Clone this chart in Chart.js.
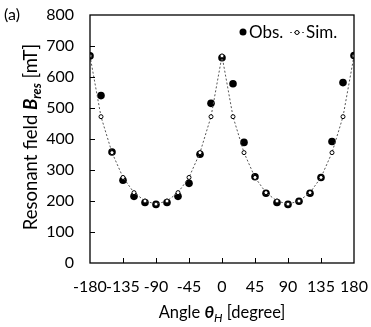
<!DOCTYPE html>
<html>
<head>
<meta charset="utf-8">
<script src="https://cdn.jsdelivr.net/npm/chart.js@4/dist/chart.umd.min.js"></script>
<style>
  html, body { margin: 0; padding: 0; background: #fff; }
  #wrap { width: 371px; height: 327px; }
</style>
</head>
<body>
<div id="wrap"><canvas id="fmr"></canvas></div>
<script>
// angle theta_H in degree
var angles = [-180, -165, -150, -135, -120, -105, -90, -75, -60, -45, -30, -15, 0,
              15, 30, 45, 60, 75, 90, 105, 120, 135, 150, 165, 180];
// observed resonant field [mT]
var obsField = [668, 540, 358, 267, 215, 195, 189, 195, 215, 257, 351, 515, 662,
                578, 389, 278, 225, 195, 189, 199, 225, 276, 392, 582, 669];
// simulated resonant field [mT]
var simField = [668, 472, 356, 276, 227, 200, 190, 200, 227, 276, 356, 472, 668,
                472, 356, 276, 227, 200, 190, 200, 227, 276, 356, 472, 668];
var xTicks = [-180, -135, -90, -45, 0, 45, 90, 135, 180];
var yTicks = [0, 100, 200, 300, 400, 500, 600, 700, 800];

var FONT = "Lato";
var TXT = "#000";

function toPoints(xs, ys) {
    let pts = [];
    for(let i=0; i<xs.length; i++) {
        pts.push({x: xs[i], y: ys[i]});
    }
    return pts;
}

function noPad(s) {
    s.paddingTop = 0;
    s.paddingBottom = 0;
    s.paddingLeft = 0;
    s.paddingRight = 0;
}

// frame, inner ticks, axis titles, legend and panel label
var decor = {
    id: 'decor',
    afterDraw(chart) {
        let ctx = chart.ctx;
        let a = chart.chartArea;
        let sx = chart.scales.x, sy = chart.scales.y;
        ctx.save();
        ctx.strokeStyle = "#000";
        ctx.lineWidth = 1.3;
        ctx.strokeRect(a.left, a.top, a.right - a.left, a.bottom - a.top);

        //inner ticks
        ctx.lineWidth = 1;
        ctx.beginPath();
        for(let i=1; i<xTicks.length-1; i++) {
            let px = Math.round(sx.getPixelForValue(xTicks[i])) + 0.5;
            ctx.moveTo(px, a.bottom);
            ctx.lineTo(px, a.bottom - 5);
        }
        for(let i=1; i<yTicks.length-1; i++) {
            let py = Math.round(sy.getPixelForValue(yTicks[i])) + 0.5;
            ctx.moveTo(a.left, py);
            ctx.lineTo(a.left + 5, py);
        }
        ctx.stroke();

        ctx.fillStyle = TXT;
        ctx.textBaseline = "alphabetic";

        //x title: Angle θH [degree]
        let parts = [
            ["Angle ", "16.5px " + FONT, 0],
            ["θ", "italic bold 17px " + FONT, 0],
            ["H", "italic 12px " + FONT, 4],
            [" [degree]", "16.5px " + FONT, 0]
        ];
        drawParts(ctx, parts, (a.left + a.right) / 2, 318);

        //y title: Resonant field Bres [mT]
        ctx.save();
        ctx.translate(37, 137);
        ctx.rotate(-Math.PI / 2);
        parts = [
            ["Resonant field ", "18.5px " + FONT, 0],
            ["B", "italic bold 18.5px " + FONT, 0],
            ["res", "italic bold 12.5px " + FONT, 4],
            [" [mT]", "18.5px " + FONT, 0]
        ];
        drawParts(ctx, parts, 0, 0);
        ctx.restore();

        //panel label
        ctx.font = "16px " + FONT;
        ctx.textAlign = "left";
        ctx.fillText("(a)", 4, 20);

        //legend
        ctx.font = "17px " + FONT;
        ctx.beginPath();
        ctx.arc(243, 32, 3.5, 0, Math.PI * 2);
        ctx.fill();
        ctx.fillText("Obs.", 249, 38);
        ctx.strokeStyle = "#555";
        ctx.setLineDash([2, 2]);
        ctx.beginPath();
        ctx.moveTo(290, 32.5);
        ctx.lineTo(304, 32.5);
        ctx.stroke();
        ctx.setLineDash([]);
        ctx.strokeStyle = "#000";
        ctx.fillStyle = "#fff";
        ctx.beginPath();
        ctx.arc(297, 32.5, 2, 0, Math.PI * 2);
        ctx.fill();
        ctx.stroke();
        ctx.fillStyle = TXT;
        ctx.fillText("Sim.", 306, 38);
        ctx.restore();
    }
};

function drawParts(ctx, parts, cx, baseY) {
    let total = 0;
    for(let i=0; i<parts.length; i++) {
        ctx.font = parts[i][1];
        total += ctx.measureText(parts[i][0]).width;
    }
    let x = cx - total / 2;
    ctx.textAlign = "left";
    for(let i=0; i<parts.length; i++) {
        ctx.font = parts[i][1];
        ctx.fillText(parts[i][0], x, baseY + parts[i][2]);
        x += ctx.measureText(parts[i][0]).width;
    }
}

var ctx = document.getElementById('fmr').getContext('2d');
var fmrChart = new Chart(ctx, {
    type: 'scatter',
    data: {
        datasets: [
            {
                label: 'Sim.',
                data: toPoints(angles, simField),
                showLine: true,
                borderColor: '#555',
                borderWidth: 1,
                borderDash: [2, 2],
                pointRadius: 2,
                pointBackgroundColor: '#fff',
                pointBorderColor: '#000',
                pointBorderWidth: 1,
                order: 0
            },
            {
                label: 'Obs.',
                data: toPoints(angles, obsField),
                showLine: false,
                pointRadius: 3.8,
                pointBackgroundColor: '#000',
                pointBorderColor: '#000',
                pointBorderWidth: 0,
                order: 1
            }
        ]
    },
    options: {
        responsive: true,
        maintainAspectRatio: false,
        animation: false,
        layout: {
            padding: {left: 0, right: 17, top: 15, bottom: 0}
        },
        plugins: {
            legend: {display: false},
            tooltip: {enabled: false}
        },
        scales: {
            x: {
                type: 'linear',
                min: -180,
                max: 180,
                afterBuildTicks: function(s) {
                    s.ticks = xTicks.map(v => ({value: v}));
                },
                afterFit: function(s) { s.height = 64; noPad(s); },
                grid: {display: false, drawTicks: false},
                border: {display: false},
                ticks: {
                    autoSkip: false,
                    maxRotation: 0,
                    padding: 14,
                    color: TXT,
                    font: {family: FONT, size: 16}
                }
            },
            y: {
                min: 0,
                max: 800,
                afterBuildTicks: function(s) {
                    s.ticks = yTicks.map(v => ({value: v}));
                },
                afterFit: function(s) { s.width = 90; noPad(s); },
                grid: {display: false, drawTicks: false},
                border: {display: false},
                ticks: {
                    padding: 16,
                    color: TXT,
                    font: {family: FONT, size: 16}
                }
            }
        }
    },
    plugins: [decor]
});
</script>
</body>
</html>
